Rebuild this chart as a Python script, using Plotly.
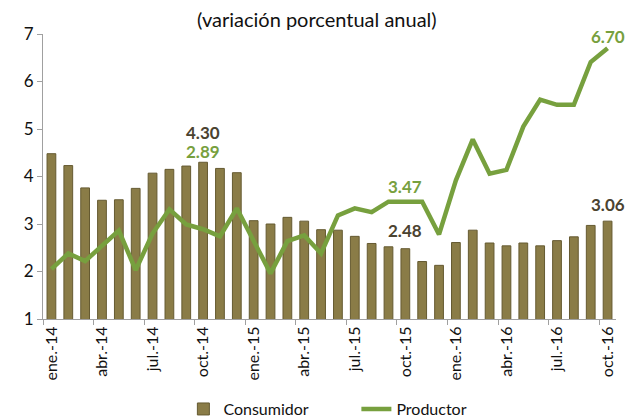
import plotly.graph_objects as go

months = ["ene.", "feb.", "mar.", "abr.", "may.", "jun.", "jul.", "ago.", "sep.", "oct.", "nov.", "dic."]
categories = [f"{m}-{y}" for y in ("14", "15", "16") for m in months][:34]

consumidor = [4.48, 4.23, 3.76, 3.50, 3.51, 3.75, 4.07, 4.15, 4.22, 4.30, 4.17, 4.08,
              3.07, 3.00, 3.14, 3.06, 2.88, 2.87, 2.74, 2.59, 2.52, 2.48, 2.21, 2.13,
              2.61, 2.87, 2.60, 2.54, 2.60, 2.54, 2.65, 2.73, 2.97, 3.06]

productor = [2.05, 2.38, 2.22, 2.53, 2.86, 2.03, 2.80, 3.31, 2.99, 2.89, 2.74, 3.33,
             2.62, 1.96, 2.64, 2.76, 2.38, 3.18, 3.33, 3.25, 3.47, 3.47, 3.47, 2.78,
             3.92, 4.78, 4.06, 4.14, 5.05, 5.62, 5.51, 5.51, 6.41, 6.70]

subtitle = "(variación porcentual anual)"

BAR = "#8a7c47"
BAR_EDGE = "#655a31"
GREEN = "#77a03e"
DARK = "#4b4330"
FONT = "Lato, Carlito, 'Liberation Sans', sans-serif"

fig = go.Figure()
fig.add_trace(go.Bar(
    x=categories, y=consumidor, name="Consumidor",
    marker=dict(color=BAR, line=dict(color=BAR_EDGE, width=1)),
))
fig.add_trace(go.Scatter(
    x=categories, y=productor, name="Productor", mode="lines",
    line=dict(color=GREEN, width=4.5),
))


def label(idx, anchor_series, value, color, shift):
    fig.add_annotation(x=categories[idx], y=anchor_series[idx], text=f"<b>{value:.2f}</b>",
                       showarrow=False, yshift=shift,
                       font=dict(size=17, color=color, family=FONT))


label(9, consumidor, consumidor[9], DARK, 30)
label(9, consumidor, productor[9], GREEN, 11)
label(21, productor, productor[21], GREEN, 15)
label(21, consumidor, consumidor[21], DARK, 18)
label(33, consumidor, consumidor[33], DARK, 17)
label(33, productor, productor[33], GREEN, 12)

fig.add_annotation(xref="paper", yref="paper", x=0.478, y=1.053, text=subtitle, showarrow=False,
                   font=dict(size=20, color="#111111", family=FONT), yanchor="middle")

fig.update_layout(
    width=628, height=418,
    margin=dict(l=43, r=12, t=34, b=99, autoexpand=False),
    paper_bgcolor="white", plot_bgcolor="white",
    bargap=0.48,
    font=dict(family=FONT, color="#111111"),
    showlegend=True,
    legend=dict(orientation="h", x=0.245, xanchor="left", y=-0.316, yanchor="middle",
                font=dict(size=16, family=FONT), itemwidth=30, tracegroupgap=0,
                entrywidthmode="pixels", entrywidth=128),
)
fig.update_xaxes(
    type="category", tickmode="linear", tick0=0, dtick=3, tickson="boundaries",
    tickangle=-90, ticks="outside", ticklen=5, tickcolor="#a0a0a0",
    showline=True, linecolor="#a0a0a0", linewidth=1, showgrid=False, automargin=False,
    tickfont=dict(size=16, family=FONT, color="#111111"),
    range=[-0.5, 33.5],
)
fig.update_yaxes(
    range=[1, 7], dtick=1, ticks="outside", ticklen=5, tickcolor="#a0a0a0",
    showline=True, linecolor="#a0a0a0", linewidth=1, showgrid=False, zeroline=False,
    automargin=False,
    tickfont=dict(size=17, family=FONT, color="#111111"),
)

fig.write_html("out.html", config={"displayModeBar": False},
               post_script="document.body.style.margin='0';")
